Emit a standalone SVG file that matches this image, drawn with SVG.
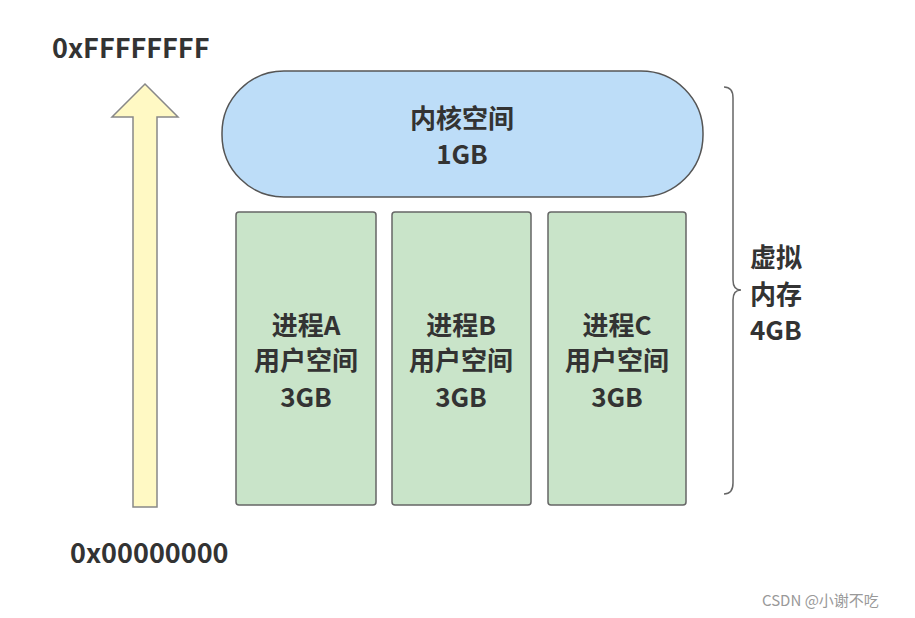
<svg xmlns="http://www.w3.org/2000/svg" width="915" height="618" viewBox="0 0 915 618">
<style>
text{font-family:"Noto Sans CJK SC","Liberation Sans",sans-serif;font-weight:bold;fill:#333;font-size:26px}
.c{text-anchor:middle}
.u{fill:#C9E4C9;stroke:#666;stroke-width:1.5}
</style>
<rect width="915" height="618" fill="#fff"/>
<text x="52" y="58" style="font-size:27px">0xFFFFFFFF</text>
<text x="70" y="563" style="font-size:27px">0x00000000</text>
<g id="arrow"><polygon points="145,84 178,117 157,117 157,507 133,507 133,117 112,117" fill="#FFF9C4" stroke="#888" stroke-width="1.5"/></g>
<g id="kernel"><rect x="222" y="71" width="481" height="126" rx="62" fill="#BDDDF8" stroke="#555" stroke-width="1.5"/>
<text class="c" x="462" y="128">内核空间</text><text class="c" x="462" y="164">1GB</text></g>
<g id="procA"><rect class="u" x="236" y="212" width="140" height="293" rx="3"/>
<text class="c" x="306" y="335">进程A</text><text class="c" x="306" y="370">用户空间</text><text class="c" x="306" y="407">3GB</text></g>
<g id="procB"><rect class="u" x="392" y="212" width="139" height="293" rx="3"/>
<text class="c" x="461" y="335">进程B</text><text class="c" x="461" y="370">用户空间</text><text class="c" x="461" y="407">3GB</text></g>
<g id="procC"><rect class="u" x="548" y="212" width="138" height="293" rx="3"/>
<text class="c" x="617" y="335">进程C</text><text class="c" x="617" y="370">用户空间</text><text class="c" x="617" y="407">3GB</text></g>
<g id="brace"><path d="M724,87 Q733,87 733,98 L733,280 Q733,290 741,290 Q733,290 733,300 L733,483 Q733,494 724,494" fill="none" stroke="#666" stroke-width="1.5"/>
<text x="750" y="267">虚拟</text><text x="750" y="304">内存</text><text x="750" y="340">4GB</text></g>
<text x="762" y="606" style="font-size:15px;font-weight:normal;fill:#999">CSDN @小谢不吃</text>
</svg>
